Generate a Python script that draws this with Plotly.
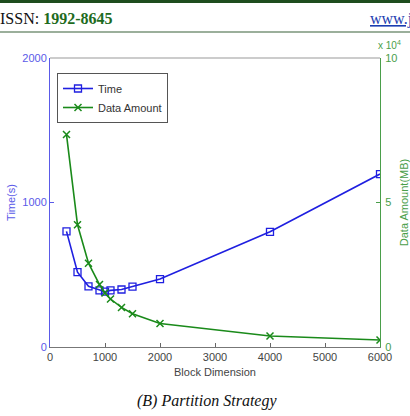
import plotly.graph_objects as go

block_dim = [300, 500, 700, 900, 1000, 1100, 1300, 1500, 2000, 4000, 6000]
time_s = [800, 518, 420, 392, 383, 392, 398, 418, 470, 797, 1197]
data_mb = [73500, 42300, 29000, 21600, 18700, 16600, 13700, 11500, 8100, 3800, 2400]

blue = "#1f1fe0"
green = "#1a8a1a"
blue_txt = "#5a5ae8"
green_txt = "#4a9e4a"
font_family = "Liberation Sans, Arial, sans-serif"

L, R, T, B = 50, 30, 58, 69
W, H = 410, 416
pw, ph = W - L - R, H - T - B

def px(x):
    return (x - L) / pw

def py(y):
    return (H - B - y) / ph

fig = go.Figure()
fig.add_trace(go.Scatter(
    x=block_dim, y=time_s, name="Time", mode="lines+markers",
    line=dict(color=blue, width=1.6),
    marker=dict(symbol="square-open", size=7, color=blue, line=dict(width=1.3)),
    yaxis="y"))
fig.add_trace(go.Scatter(
    x=block_dim, y=data_mb, name="Data Amount", mode="lines+markers",
    line=dict(color=green, width=1.6),
    marker=dict(symbol="x-thin-open", size=7, color=green, line=dict(width=1.5, color=green)),
    yaxis="y2"))

fig.update_layout(
    width=W, height=H,
    margin=dict(l=L, r=R, t=T, b=B),
    paper_bgcolor="white", plot_bgcolor="white",
    font=dict(family=font_family, size=11, color="#444"),
    showlegend=True,
    legend=dict(x=px(57), y=py(73), xanchor="left", yanchor="top",
                bgcolor="white", bordercolor="#555", borderwidth=1,
                font=dict(size=11, color="#333"), tracegroupgap=0,
                itemwidth=30),
    xaxis=dict(range=[0, 6000], tickvals=[0, 1000, 2000, 3000, 4000, 5000, 6000],
               ticks="inside", ticklen=4, tickcolor="#666", showgrid=False, zeroline=False,
               showline=True, linecolor="#777", linewidth=1, mirror=False, automargin=False,
               tickfont=dict(size=11, color="#444"),
               title=dict(text="Block Dimension", font=dict(size=11, color="#444"), standoff=6)),
    yaxis=dict(range=[0, 2000], tickvals=[0, 1000, 2000], ticks="inside", ticklen=4,
               tickcolor=blue_txt, showgrid=False, zeroline=False, showline=True, automargin=False,
               linecolor=blue_txt, linewidth=1, tickfont=dict(size=11, color=blue_txt),
               title=dict(text="Time(s)", font=dict(size=11, color=blue_txt), standoff=4)),
    yaxis2=dict(range=[0, 100000], tickvals=[0, 50000, 100000], ticktext=["0", "5", "10"],
                overlaying="y", side="right", ticks="inside", ticklen=4, tickcolor=green_txt,
                showgrid=False, zeroline=False, showline=True, linecolor=green_txt, linewidth=1,
                automargin=False, ticklabelstandoff=2,
                tickfont=dict(size=11, color=green_txt),
                title=dict(text="Data Amount(MB)", font=dict(size=11, color=green_txt), standoff=6)),
)

shapes = [
    dict(type="line", xref="paper", yref="paper", x0=0, x1=1, y0=1, y1=1,
         line=dict(color="#999", width=1)),
    dict(type="rect", xref="paper", yref="paper", x0=px(0), x1=px(W), y0=py(3), y1=py(0),
         fillcolor="#1e4d1e", line=dict(width=0)),
    dict(type="line", xref="paper", yref="paper", x0=px(0), x1=px(W), y0=py(32), y1=py(32),
         line=dict(color="#7a957a", width=1.5)),
]
fig.update_layout(shapes=shapes)

annotations = [
    dict(text="ISSN: <b><span style='color:#1e6b1e'>1992-8645</span></b>", x=px(-2), y=py(19),
         xref="paper", yref="paper", xanchor="left", yanchor="middle", showarrow=False,
         font=dict(family="Liberation Serif, Times New Roman, serif", size=16, color="#111")),
    dict(text="<u>www.j</u>", x=px(W + 4), y=py(19), xref="paper", yref="paper",
         xanchor="right", yanchor="middle", showarrow=False,
         font=dict(family="Liberation Serif, Times New Roman, serif", size=16, color="#1a3cb0")),
    dict(text="x 10<sup>4</sup>", x=px(376), y=py(45), xref="paper", yref="paper",
         xanchor="left", yanchor="middle", showarrow=False,
         font=dict(size=10, color=green_txt)),
    dict(text="<i>(B) Partition Strategy</i>", x=px(207), y=py(401), xref="paper", yref="paper",
         xanchor="center", yanchor="middle", showarrow=False,
         font=dict(family="Liberation Serif, Times New Roman, serif", size=16, color="#111")),
]
fig.update_layout(annotations=annotations)

fig.write_html("out.html")
